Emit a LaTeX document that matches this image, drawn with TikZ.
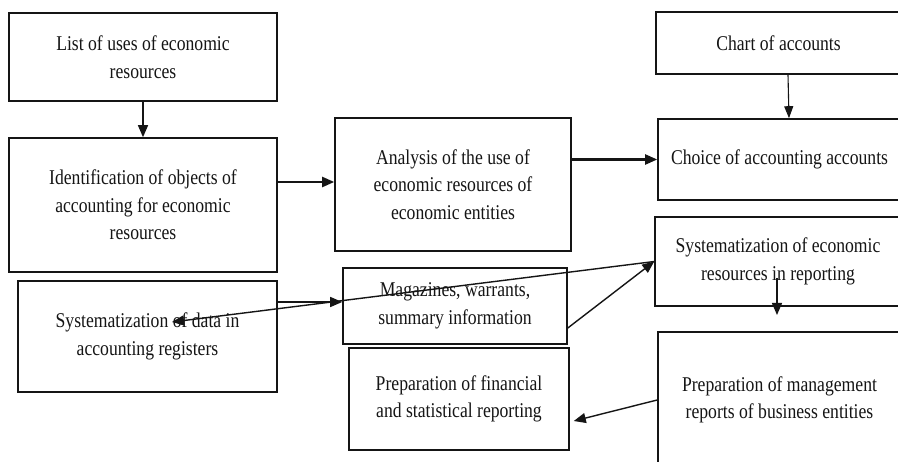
\documentclass[tikz,border=0pt]{standalone}
\usepackage{fontspec}
\setmainfont{Liberation Serif}[FakeStretch=0.84]
\usetikzlibrary{arrows.meta}
\definecolor{ink}{HTML}{151515}
\tikzset{
  box/.style={draw=ink, line width=1.6pt, inner sep=0pt, align=center, text=ink,
    font=\fontsize{21}{27.5}\selectfont},
  arr/.style={draw=ink, line width=1.4pt, -{Triangle[length=12pt,width=10pt]}},
  thickarr/.style={arr, line width=2.2pt},
  thinarr/.style={draw=ink, line width=1.1pt, -{Triangle[length=12pt,width=9pt]}}
}
\begin{document}
\begin{tikzpicture}[x=1pt,y=-1pt]
\useasboundingbox (0,0) rectangle (898,462);
\clip (0,0) rectangle (898,462);
\fill[white] (0,0) rectangle (898,462);
% boxes
\node[box, minimum width=268pt, minimum height=88pt] (b1) at (143,57) {List of uses of economic\\resources};
\node[box, minimum width=268pt, minimum height=134pt] (b2) at (143,205) {Identification of objects of\\accounting for economic\\resources};
\node[box, minimum width=236pt, minimum height=133pt] (b3) at (453,184.5) {Analysis of the use of\\economic resources of\\economic entities};
\node[box, minimum width=245pt, minimum height=62pt] (b4) at (778.5,43) {Chart of accounts};
\node[box, minimum width=243pt, minimum height=81pt] (b5) at (779.5,159.5) {Choice of accounting accounts};
\node[box, minimum width=246pt, minimum height=89pt] (b6) at (778,261.5) {Systematization of economic\\resources in reporting};
\node[box, minimum width=243pt, minimum height=136pt] (b7) at (779.5,400) {Preparation of management\\reports of business entities};
\node[box, minimum width=220pt, minimum height=102pt] (b8) at (459,399) {Preparation of financial\\and statistical reporting};
\node[box, minimum width=224pt, minimum height=76pt] (b9) at (455,306) {Magazines, warrants,\\summary information};
\node[box, minimum width=259pt, minimum height=111pt] (b10) at (147.5,336.5) {Systematization of data in\\accounting registers};
% free ends
\coordinate (e10) at (172,322);
\coordinate (s6) at (777,278);
\coordinate (t6) at (777,315);
% connectors
\draw[arr] (b1.south) -- (b2.north);
\draw[thickarr] ([yshift=2.5pt]b3.west -| b2.east) -- ([yshift=2.5pt]b3.west);
\draw[thickarr] (b5.west -| b3.east) -- (b5.west);
\draw[thinarr] ([xshift=9.5pt]b4.south) -- ([xshift=9.5pt]b5.north);
\draw[arr] (s6) -- (t6);
\draw[arr] (b7.west) -- ([shift={(4,22)}]b8.east);
\draw[arr] ([yshift=4pt]b9.west -| b10.east) -- ([yshift=4pt]b9.west);
\draw[arr] ([shift={(0,22)}]b9.east) -- (b6.west);
\draw[arr] (b6.west) -- (e10);
\end{tikzpicture}
\end{document}
